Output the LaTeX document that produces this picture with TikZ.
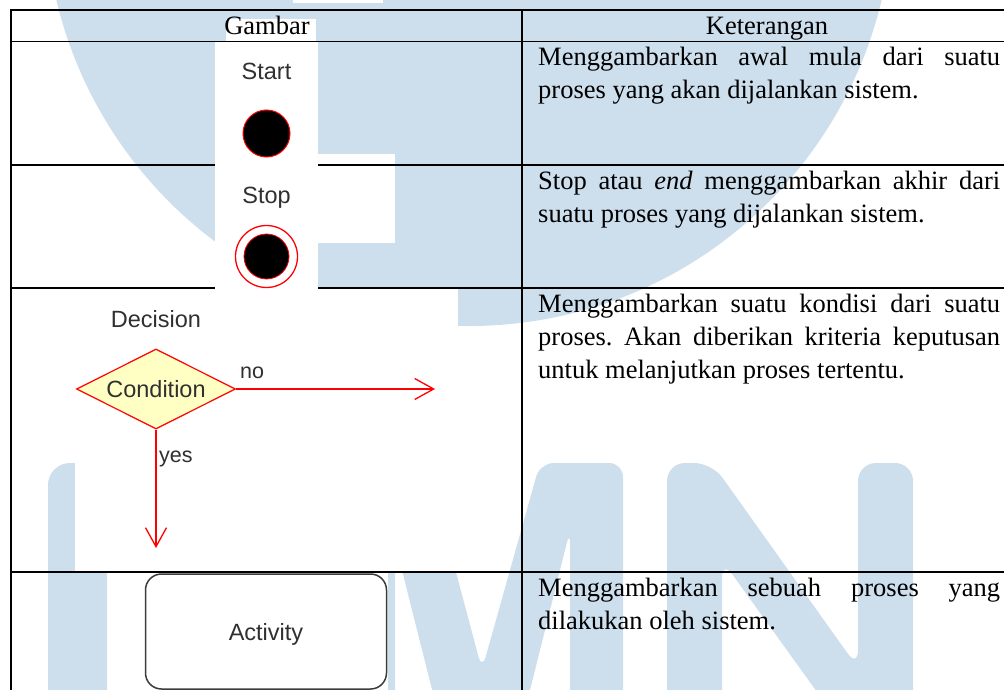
\documentclass[tikz,border=0pt]{standalone}
\usepackage{fontspec}
\setmainfont{Liberation Serif}
\setsansfont{Liberation Sans}
\usepackage{tikz}
\usetikzlibrary{arrows.meta, shapes, shapes.geometric, positioning, calc}
\definecolor{umnblue}{RGB}{205,222,237}
\definecolor{lblgray}{RGB}{48,48,48}
\definecolor{condyellow}{RGB}{255,255,196}
\definecolor{actgray}{RGB}{60,60,60}
\frenchspacing
\tolerance=9999
\hbadness=10000
\hyphenpenalty=10000
\tikzset{
  wm/.style={fill=umnblue, draw=none},
  grid/.style={line width=1.8pt, black},
  imgbg/.style={fill=white, draw=none},
  headtxt/.style={anchor=base, inner sep=0pt, font=\fontsize{26.5}{33}\selectfont},
  desc/.style={anchor=north west, inner sep=0pt, text width=462pt, align=justify, font=\fontsize{26.5}{33}\selectfont},
  lbl/.style={anchor=base, inner sep=0pt, text=lblgray, font=\sffamily\fontsize{23.5}{28}\selectfont},
  smalllbl/.style={lbl, anchor=base west, font=\sffamily\fontsize{21.5}{26}\selectfont},
  startdot/.style={circle, fill=black, draw=red, line width=1pt, minimum size=47pt, inner sep=0pt},
  stopring/.style={circle, draw=red, line width=1.3pt, minimum size=62pt, inner sep=0pt},
  decision/.style={diamond, aspect=2, fill=condyellow, draw=red, line width=1.2pt, minimum width=159pt, minimum height=80pt, inner sep=0pt, text=lblgray, font=\sffamily\fontsize{23.5}{28}\selectfont},
  actbox/.style={rectangle, rounded corners=16pt, draw=actgray, line width=1.5pt, minimum width=241pt, minimum height=115pt, text height=17pt, text depth=0pt, text=lblgray, font=\sffamily\fontsize{23.5}{28}\selectfont},
}
\tikzstyle{flow} = [red, line width=1.3pt, -{Straight Barb[length=19pt,width=21pt]}]

\begin{document}
\begin{tikzpicture}[x=1pt, y=-1pt]
\useasboundingbox (0,0) rectangle (1004,690);
\clip (0,0) rectangle (1004,690);

% watermark in the background
\fill[wm] (469,-98) circle[radius=424pt];
\fill[white] (293,-5) rectangle (383,3);
\fill[white] (300,154) rectangle (395,243);
\fill[wm, rounded corners=22pt] (48,760) -- (48,463) -- (107,463) -- (107,760) -- cycle;
\fill[wm, rounded corners=22pt] (336,760) -- (336,463) -- (395,463) -- (395,760) -- cycle;
\fill[wm, rounded corners=14pt] (375,463) -- (427,463) -- (482,670) -- (540,463) -- (623,463) -- (623,760) -- (570,760) -- (570,530) -- (512.5,760) -- (449.75,760) -- cycle;
\fill[wm, rounded corners=18pt] (667,760) -- (667,463) -- (712,463) -- (858,668) -- (858,463) -- (913,463) -- (913,760) -- (866,760) -- (722,560) -- (722,760) -- cycle;

% table
\fill[white] (226,19) rectangle (316,41);
\draw[grid] (11,690) -- (11,10) -- (1004,10);
\foreach \y in {41.5,165,288,572}
  \draw[grid] (11,\y) -- (1004,\y);
\draw[grid] (522,10) -- (522,690);

\node[headtxt] (hgambar) at (267,35) {Gambar};
\node[headtxt] (hket) at (767,35) {Keterangan};

\node[desc] (dstart) at (538,42) {\strut Menggambarkan awal mula dari suatu\linebreak proses yang akan dijalankan sistem.};
\node[desc] (dstop) at (538,166) {\strut Stop atau \emph{end} menggambarkan akhir dari\linebreak suatu proses yang dijalankan sistem.};
\node[desc] (ddec) at (538,289) {\strut Menggambarkan suatu kondisi dari suatu\linebreak proses. Akan diberikan kriteria keputusan\linebreak untuk melanjutkan proses tertentu.};
\node[desc] (dact) at (538,573) {\strut Menggambarkan sebuah proses yang\linebreak dilakukan oleh sistem.};

% start and stop
\fill[imgbg] (215,42.5) rectangle (318,292);
\node[lbl] (startlbl) at (266.5,80) {Start};
\node[startdot] (start) at (266.5,133.5) {};
\node[lbl] (stoplbl) at (266.5,203) {Stop};
\node[stopring] (stop) at (266.5,256.5) {};
\node[startdot, minimum size=45pt, line width=0.8pt] (stopdot) at (stop) {};

% decision
\fill[imgbg] (75,288.6) rectangle (458,571);
\node[lbl] (declbl) at (156,327) {Decision};
\node[decision] (cond) at (156,389) {Condition};
\coordinate (noEnd) at (435,389);
\coordinate (yesEnd) at (156,548);
\draw[flow] (cond.east) -- (noEnd);
\draw[flow] (cond.south) -- (yesEnd);
\node[smalllbl] (nolbl) at (240,378) {no};
\node[smalllbl] (yeslbl) at (159,462) {yes};

% activity
\fill[imgbg] (144,573) rectangle (388,700);
\node[actbox] (act) at (266,631.5) {Activity};
\end{tikzpicture}
\end{document}
